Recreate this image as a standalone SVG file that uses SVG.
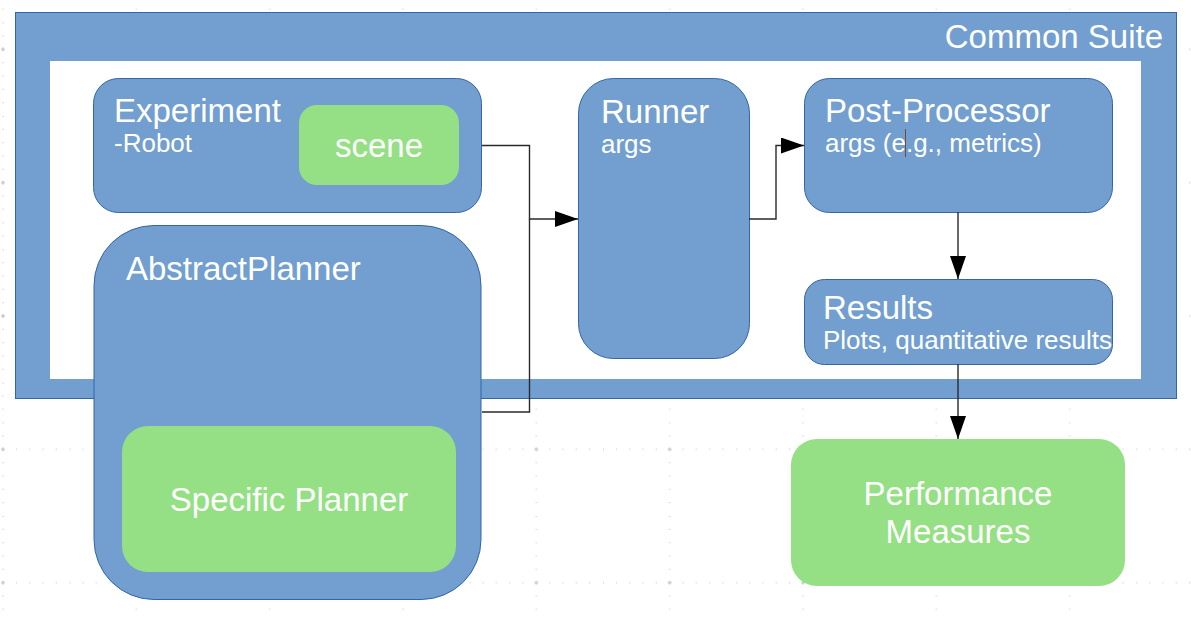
<svg xmlns="http://www.w3.org/2000/svg" width="1191" height="618" viewBox="0 0 1191 618">
  <style>
    .blue { fill: #729fcf; stroke: #3465a4; stroke-width: 1; }
    .green { fill: #95e084; stroke: none; }
    .t { fill: #ffffff; font-family: "Liberation Sans", Arial, sans-serif; }
    .big { font-size: 33px; }
    .small { font-size: 26px; }
    .mid { text-anchor: middle; }
    .conn { fill: none; stroke: #2a2a2a; stroke-width: 1.4; }
    .dot { fill: #b9b9b9; }
  </style>
  <defs>
    <pattern id="grid" patternUnits="userSpaceOnUse" x="-63.667" y="-17.333" width="133.333" height="133.333">
      <g class="dot">
        <rect x="66.17" y="0" width="1" height="1"/>
        <rect x="66.17" y="12.83" width="1" height="1"/>
        <rect x="66.17" y="26.17" width="1" height="1"/>
        <rect x="66.17" y="39.5" width="1" height="1"/>
        <rect x="66.17" y="52.83" width="1" height="1"/>
        <rect x="66.17" y="79.5" width="1" height="1"/>
        <rect x="66.17" y="92.83" width="1" height="1"/>
        <rect x="66.17" y="106.17" width="1" height="1"/>
        <rect x="66.17" y="119.5" width="1" height="1"/>
        <rect x="0" y="66.17" width="1" height="1"/>
        <rect x="12.83" y="66.17" width="1" height="1"/>
        <rect x="26.17" y="66.17" width="1" height="1"/>
        <rect x="39.5" y="66.17" width="1" height="1"/>
        <rect x="52.83" y="66.17" width="1" height="1"/>
        <rect x="79.5" y="66.17" width="1" height="1"/>
        <rect x="92.83" y="66.17" width="1" height="1"/>
        <rect x="106.17" y="66.17" width="1" height="1"/>
        <rect x="119.5" y="66.17" width="1" height="1"/>
        <rect x="64.67" y="66.17" width="4" height="1"/>
        <rect x="66.17" y="64.67" width="1" height="4"/>
      </g>
    </pattern>
    <marker id="arrow" markerUnits="userSpaceOnUse" markerWidth="24" markerHeight="16" refX="23" refY="8" orient="auto">
      <path d="M0,0 L23,8 L0,16 z" fill="#000000"/>
    </marker>
  </defs>

  <rect x="0" y="0" width="1191" height="618" fill="#ffffff"/>
  <rect x="0" y="0" width="1191" height="618" fill="url(#grid)"/>

  <g id="common-suite">
    <rect x="15.5" y="12.5" width="1161" height="386" fill="#729fcf" stroke="#3465a4" stroke-width="1"/>
    <rect x="50" y="61" width="1091" height="318" fill="#ffffff"/>
    <text class="t big" x="1163" y="48" text-anchor="end">Common Suite</text>
  </g>

  <g id="experiment">
    <rect class="blue" x="93.5" y="78.5" width="388" height="134" rx="25" ry="25"/>
    <text class="t big" x="114" y="122">Experiment</text>
    <text class="t small" x="114" y="152">-Robot</text>
  </g>

  <g id="scene">
    <rect class="green" x="299" y="105" width="160" height="80" rx="18" ry="18"/>
    <text class="t big mid" x="379" y="157">scene</text>
  </g>

  <g id="abstract-planner">
    <rect class="blue" x="94" y="225.5" width="387" height="374" rx="60" ry="60"/>
    <text class="t big" x="126" y="280">AbstractPlanner</text>
  </g>

  <g id="specific-planner">
    <rect class="green" x="122" y="426" width="334" height="146" rx="26" ry="26"/>
    <text class="t big mid" x="289" y="511">Specific Planner</text>
  </g>

  <g id="runner">
    <rect class="blue" x="578.5" y="78.5" width="171" height="280" rx="35" ry="35"/>
    <text class="t big" x="601" y="123">Runner</text>
    <text class="t small" x="601" y="153">args</text>
  </g>

  <g id="post-processor">
    <rect class="blue" x="804.5" y="78.5" width="308" height="134" rx="25" ry="25"/>
    <text class="t big" x="825" y="122">Post-Processor</text>
    <text class="t small" x="825" y="152">args (e.g., metrics)</text>
    <line x1="905.5" y1="129" x2="905.5" y2="157" stroke="#7a4a2a" stroke-width="1"/>
  </g>

  <g id="results">
    <rect class="blue" x="804.5" y="279.5" width="308" height="85" rx="20" ry="20"/>
    <text class="t big" x="823" y="319">Results</text>
    <text class="t small" x="823" y="349">Plots, quantitative results</text>
  </g>

  <g id="performance-measures">
    <rect class="green" x="791" y="439" width="334" height="147" rx="26" ry="26"/>
    <text class="t big mid" x="958" y="505">Performance</text>
    <text class="t big mid" x="958" y="543">Measures</text>
  </g>

  <g id="connectors">
    <path class="conn" d="M482,145.5 H529.5 V219 H578" marker-end="url(#arrow)"/>
    <path class="conn" d="M482,412 H529.5 V219"/>
    <path class="conn" d="M749,219 H776 V145.5 H804" marker-end="url(#arrow)"/>
    <path class="conn" d="M958,212 V279" marker-end="url(#arrow)"/>
    <path class="conn" d="M958,364 V439" marker-end="url(#arrow)"/>
  </g>
</svg>
